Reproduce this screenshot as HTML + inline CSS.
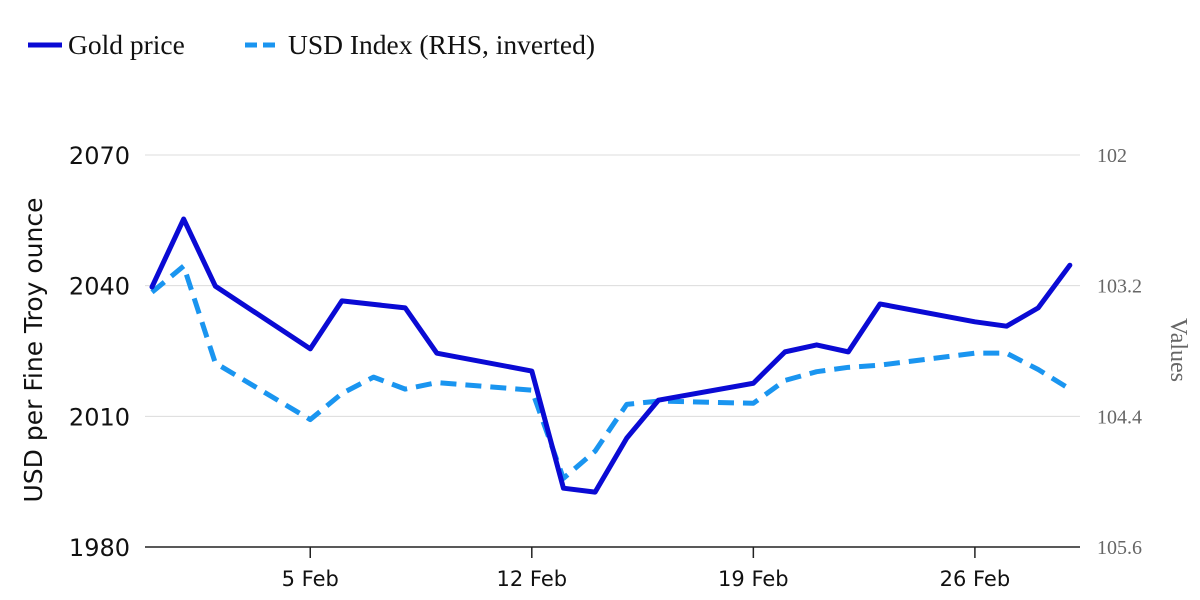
<!DOCTYPE html>
<html><head><meta charset="utf-8"><style>
body{margin:0;background:#fff;width:1200px;height:600px;overflow:hidden}
svg{display:block}
</style></head><body>
<svg id="chart" width="1200" height="600" xmlns="http://www.w3.org/2000/svg">
 <g>
  <line x1="28" y1="45" x2="62" y2="45" stroke="#0a0ad4" stroke-width="5"/>
  <text x="68" y="54" font-family="Liberation Serif, serif" font-size="27.5" fill="#111">Gold price</text>
  <line x1="245" y1="45" x2="281" y2="45" stroke="#1a95f0" stroke-width="5" stroke-dasharray="12,6"/>
  <text x="288" y="54" font-family="Liberation Serif, serif" font-size="27.5" fill="#111">USD Index (RHS, inverted)</text>
 </g>
 <text transform="translate(42,350) rotate(-90)" text-anchor="middle" font-family="DejaVu Sans, sans-serif" font-size="25" fill="#111">USD per Fine Troy ounce</text>
 <text transform="translate(1171,350) rotate(90)" text-anchor="middle" font-family="Liberation Serif, serif" font-size="24" fill="#666">Values</text>
 <g id="grid"></g><g id="axes"></g><g id="series"></g>
</svg>
<script>
const days=[0,1,2,5,6,7,8,9,12,13,14,15,16,19,20,21,22,23,26,27,28,29];
const gold=[2039.7,2055.3,2039.9,2025.5,2036.5,2035.7,2034.9,2024.5,2020.4,1993.5,1992.6,2005,2013.7,2017.6,2024.8,2026.4,2024.8,2035.8,2031.7,2030.7,2034.9,2044.7];
const usd=[103.26,103.02,103.91,104.43,104.19,104.04,104.15,104.09,104.16,104.97,104.72,104.29,104.26,104.28,104.07,103.99,103.95,103.93,103.82,103.82,103.97,104.15];
const leftTicks=[1980,2010,2040,2070];
const rightTicks=["102","103.2","104.4","105.6"];
const xTickDays=[5,12,19,26];
const xTickLabels=["5 Feb","12 Feb","19 Feb","26 Feb"];
const NS="http://www.w3.org/2000/svg";
const X=d=>152+d*31.65;
const YL=v=>547-(v-1980)*392/90;
const YR=v=>155+(v-102)*392/3.6;
function mk(tag,attrs,parent,txt){const e=document.createElementNS(NS,tag);for(const k in attrs)e.setAttribute(k,attrs[k]);if(txt!==undefined)e.textContent=txt;document.getElementById(parent).appendChild(e);return e;}
leftTicks.forEach((v,i)=>{
 const y=YL(v);
 if(i>0){const g=mk('line',{x1:145,x2:1080,y1:y,y2:y,stroke:'#dcdcdc','stroke-width':1},'grid');
 
 }
 const t=mk('text',{x:130,y:y+9,'text-anchor':'end','font-family':'DejaVu Sans, sans-serif','font-size':24,fill:'#111'},'axes',String(v));
 
 
});
rightTicks.forEach(v=>{
 const t=mk('text',{x:1097,y:YR(parseFloat(v))+7,'font-family':'Liberation Serif, serif','font-size':20,fill:'#666'},'axes',v);
 
 
});
const base=mk('line',{x1:145,x2:1080,y1:547,y2:547,stroke:'#222','stroke-width':1.5},'axes');


xTickDays.forEach((d,i)=>{
 const x=X(d);
 const l=mk('line',{x1:x,x2:x,y1:547,y2:558,stroke:'#222','stroke-width':1.5},'axes');
 
 
 const t=mk('text',{x:x,y:586,'text-anchor':'middle','font-family':'DejaVu Sans, sans-serif','font-size':21,fill:'#111'},'axes',xTickLabels[i]);
 
 
});
const up=usd.map((v,i)=>X(days[i])+','+YR(v)).join(' ');
const u=mk('polyline',{points:up,fill:'none',stroke:'#1a95f0','stroke-width':5,'stroke-dasharray':'16,9','stroke-linejoin':'round'},'series');


const gp=gold.map((v,i)=>X(days[i])+','+YL(v)).join(' ');
const g=mk('polyline',{points:gp,fill:'none',stroke:'#0a0ad4','stroke-width':5,'stroke-linejoin':'round','stroke-linecap':'round'},'series');


</script>
</body></html>
